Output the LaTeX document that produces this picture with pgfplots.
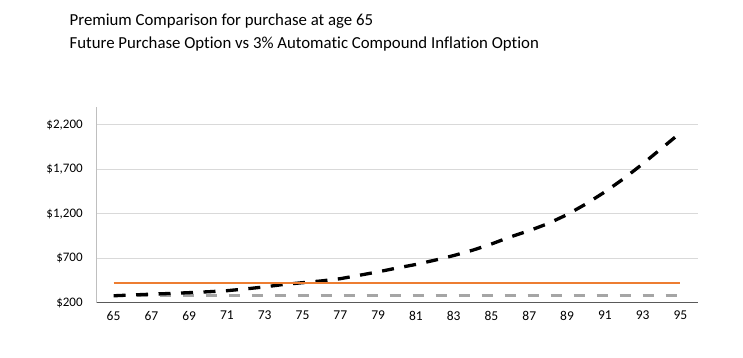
\documentclass[border=0pt]{standalone}
\usepackage{fontspec}
\setmainfont{Carlito}[Ligatures={NoCommon}]
\usepackage{pgfplots}
\pgfplotsset{compat=1.18}
\definecolor{orangeL}{HTML}{ED7D31}
\definecolor{grayL}{HTML}{A5A5A5}
\definecolor{gridc}{HTML}{D9D9D9}
\definecolor{yaxc}{HTML}{BFBFBF}
\definecolor{axc}{HTML}{595959}
\pgfplotstableread{
age prem
65 278
66 287
67 296
68 304
69 313
70 323
71 335
72 355
73 378
74 405
75 425
76 445
77 470
78 508
79 547
80 590
81 630
82 678
83 730
84 790
85 860
86 940
87 1010
88 1090
89 1190
90 1310
91 1445
92 1595
93 1760
94 1935
95 2110
}\fpo
\begin{document}
\begin{tikzpicture}[x=1pt,y=1pt]
\useasboundingbox (0,0) rectangle (743,357);
\node[anchor=base west, font=\fontsize{16.8}{20}\selectfont, inner sep=0] at (69.5,331) {Premium Comparison for purchase at age 65};
\node[anchor=base west, font=\fontsize{16.8}{20}\selectfont, inner sep=0] at (69.5,308.3) {Future Purchase Option vs 3\% Automatic Compound Inflation Option};
\begin{axis}[at={(96pt,54.3pt)}, anchor=south west, scale only axis,
  width=602pt, height=195.7pt,
  xmin=64.07, xmax=95.93, ymin=200, ymax=2400,
  xtick={65,67,...,95}, ytick={200,700,...,2200},
  ymajorgrids, grid style={gridc, line width=0.8pt},
  axis lines=left, axis line style={-},
  x axis line style={axc, line width=1pt},
  y axis line style={yaxc, line width=0.8pt},
  major tick length=0pt, tick style={draw=none},
  tick label style={font=\fontsize{13}{15}\selectfont},
  xticklabel style={font=\fontsize{13.5}{15}\selectfont, yshift=-5pt},
  /pgf/number format/assume math mode=true,
  yticklabel={\$\pgfmathprintnumber{\tick}},
  yticklabel style={anchor=east, xshift=-9.8pt},
]
\addplot[grayL, line width=3pt, dash pattern=on 11pt off 12pt] coordinates {(65,280) (95,280)};
\addplot[black, line width=3.3pt, dash pattern=on 12pt off 10.5pt] table[x=age,y=prem] {\fpo};
\addplot[orangeL, line width=2.6pt] coordinates {(65,420) (95,420)};
\end{axis}
\end{tikzpicture}
\end{document}
